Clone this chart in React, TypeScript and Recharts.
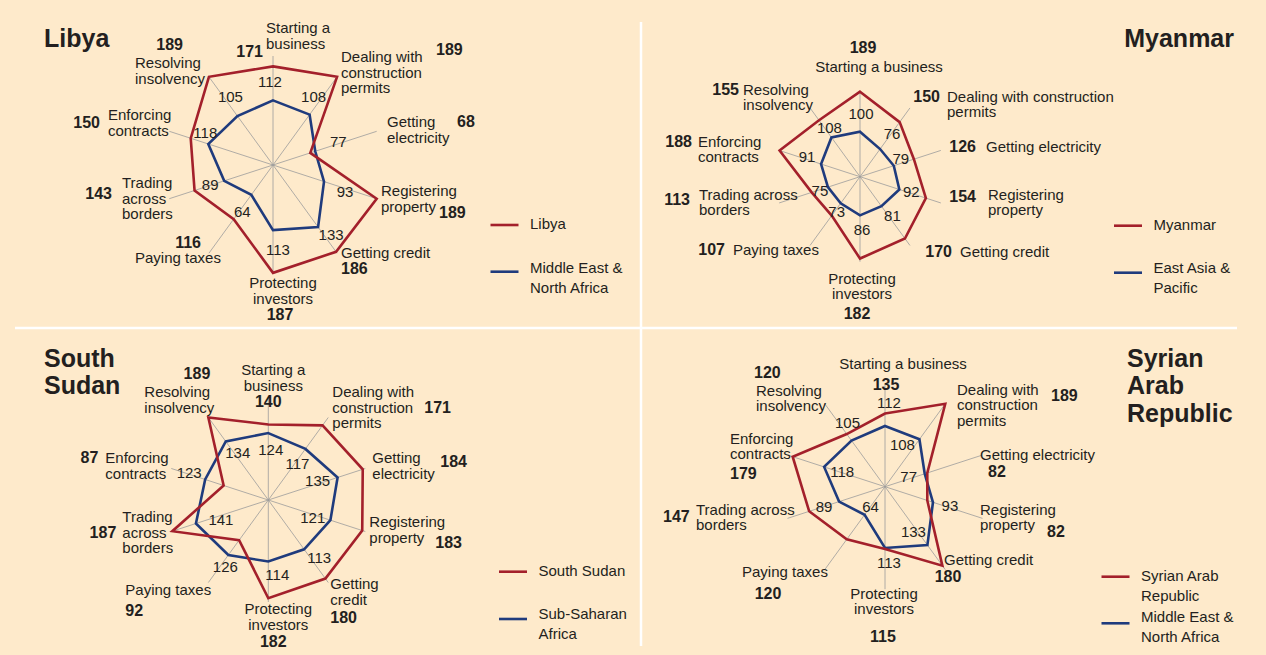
import React from 'react';
import { RadarChart, Radar, PolarGrid, PolarAngleAxis, PolarRadiusAxis } from 'recharts';

// ---------- data ----------
const CATEGORIES = [
  'Starting a business',
  'Dealing with construction permits',
  'Getting electricity',
  'Registering property',
  'Getting credit',
  'Protecting investors',
  'Paying taxes',
  'Trading across borders',
  'Enforcing contracts',
  'Resolving insolvency',
];

const LIBYA = [171, 189, 68, 189, 186, 187, 116, 143, 150, 189];
const MENA = [112, 108, 77, 93, 133, 113, 64, 89, 118, 105];
const MYANMAR = [189, 150, 126, 154, 170, 182, 107, 113, 188, 155];
const EAST_ASIA = [100, 76, 79, 92, 81, 86, 73, 75, 91, 108];
const SOUTH_SUDAN = [140, 171, 184, 183, 180, 182, 92, 187, 87, 189];
const SUB_SAHARAN = [124, 117, 135, 121, 113, 114, 126, 141, 123, 134];
const SYRIA = [135, 189, 82, 82, 180, 115, 120, 147, 179, 120];
const MAX_RANK = 189;

const LINES_LIBYA = [
  ['Starting a', 'business'], ['Dealing with', 'construction', 'permits'], ['Getting', 'electricity'],
  ['Registering', 'property'], ['Getting credit'], ['Protecting', 'investors'], ['Paying taxes'],
  ['Trading', 'across', 'borders'], ['Enforcing', 'contracts'], ['Resolving', 'insolvency'],
];
const LINES_MYANMAR = [
  ['Starting a business'], ['Dealing with construction', 'permits'], ['Getting electricity'],
  ['Registering', 'property'], ['Getting credit'], ['Protecting', 'investors'], ['Paying taxes'],
  ['Trading across', 'borders'], ['Enforcing', 'contracts'], ['Resolving', 'insolvency'],
];
const LINES_SSUDAN = [
  ['Starting a', 'business'], ['Dealing with', 'construction', 'permits'], ['Getting', 'electricity'],
  ['Registering', 'property'], ['Getting', 'credit'], ['Protecting', 'investors'], ['Paying taxes'],
  ['Trading', 'across', 'borders'], ['Enforcing', 'contracts'], ['Resolving', 'insolvency'],
];
const LINES_SYRIA = [
  ['Starting a business'], ['Dealing with', 'construction', 'permits'], ['Getting electricity'],
  ['Registering', 'property'], ['Getting credit'], ['Protecting', 'investors'], ['Paying taxes'],
  ['Trading across', 'borders'], ['Enforcing', 'contracts'], ['Resolving', 'insolvency'],
];

const TITLES = {
  libya: ['Libya'],
  myanmar: ['Myanmar'],
  ssudan: ['South', 'Sudan'],
  syria: ['Syrian', 'Arab', 'Republic'],
};
const LEGEND_LIBYA = [['Libya'], ['Middle East &', 'North Africa']];
const LEGEND_MYANMAR = [['Myanmar'], ['East Asia &', 'Pacific']];
const LEGEND_SSUDAN = [['South Sudan'], ['Sub-Saharan', 'Africa']];
const LEGEND_SYRIA = [['Syrian Arab', 'Republic'], ['Middle East &', 'North Africa']];

// ---------- style ----------
const FONT = "'Liberation Sans', Arial, sans-serif";
const TEXT = '#231F20';
const RED = '#A3202B';
const BLUE = '#1F3B7D';
const GRID = '#9C9C9C';
const BG = '#FEEACB';

type Anchor = 'start' | 'middle' | 'end';
type Pos = [number, number, Anchor];

interface PanelCfg {
  left: number; top: number; width: number; height: number;
  cx: number; cy: number; R: number;
  country: number[]; region: number[];
  lines: string[][];
  labelPos: Pos[]; numPos: Pos[]; bluePos: [number, number][];
}

const PANELS: PanelCfg[] = [
  {
    left: 0, top: 0, width: 633, height: 327, cx: 273, cy: 165, R: 109,
    country: LIBYA, region: MENA, lines: LINES_LIBYA,
    labelPos: [[-7, -132, 'start'], [68, -103, 'start'], [114, -38, 'start'], [108, 31, 'start'], [68, 93, 'start'],
      [10, 123, 'middle'], [-138, 98, 'start'], [-151, 23, 'start'], [-165, -45, 'start'], [-138, -97, 'start']],
    numPos: [[-10, -108, 'end'], [163, -110, 'start'], [184, -38, 'start'], [166, 53, 'start'], [68, 109, 'start'],
      [7, 155, 'middle'], [-72, 83, 'end'], [-161, 34, 'end'], [-173, -37, 'end'], [-90, -115, 'end']],
    bluePos: [[-3, -13], [4, -13], [23, -4], [21, 15], [13, 13], [5, 25], [-9, 22], [-14, 9], [-3, -6], [-7, -14]],
  },
  {
    left: 633, top: 0, width: 633, height: 327, cx: 227, cy: 176.7, R: 85,
    country: MYANMAR, region: EAST_ASIA, lines: LINES_MYANMAR,
    labelPos: [[19, -105, 'middle'], [87, -75, 'start'], [126, -25, 'start'], [128, 23, 'start'], [100, 80, 'start'],
      [2, 107, 'middle'], [-127, 78, 'start'], [-161, 23, 'start'], [-162, -30, 'start'], [-117, -82, 'start']],
    numPos: [[3, -124, 'middle'], [80, -75, 'end'], [116, -25, 'end'], [116, 25, 'end'], [92, 80, 'end'],
      [-3, 142, 'middle'], [-135, 78, 'end'], [-170, 28, 'end'], [-168, -30, 'end'], [-121, -82, 'end']],
    bluePos: [[1, -13], [12, -10], [7, -2], [12, 8], [11, 15], [2, 20], [-4, 14], [-8, 9], [-14, -2], [-2, -4]],
  },
  {
    left: 0, top: 328, width: 633, height: 327, cx: 268.3, cy: 172, R: 102,
    country: SOUTH_SUDAN, region: SUB_SAHARAN, lines: LINES_SSUDAN,
    labelPos: [[5, -125, 'middle'], [64, -103, 'start'], [104, -37, 'start'], [101, 27, 'start'], [62, 89, 'start'],
      [10, 114, 'middle'], [-143, 95, 'start'], [-146, 22, 'start'], [-163, -37, 'start'], [-124, -103, 'start']],
    numPos: [[0, -93, 'middle'], [156, -87, 'start'], [172, -33, 'start'], [167, 48, 'start'], [62, 123, 'start'],
      [5, 147, 'middle'], [-143, 116, 'start'], [-152, 38, 'end'], [-170, -37, 'end'], [-58, -121, 'end']],
    bluePos: [[2.5, 22], [-8, 20], [-20, 8.5], [-17.6, 2.5], [15, 14], [9, 18.5], [-3, 16.7], [25, 1.5], [-16, -1], [12, 17]],
  },
  {
    left: 633, top: 328, width: 633, height: 327, cx: 252, cy: 158.7, R: 102.5,
    country: SYRIA, region: MENA, lines: LINES_SYRIA,
    labelPos: [[18, -118, 'middle'], [72, -92, 'start'], [95, -27, 'start'], [95, 28, 'start'], [59, 78, 'start'],
      [-1, 112, 'middle'], [-143, 90, 'start'], [-189, 28, 'start'], [-155, -43, 'start'], [-129, -91, 'start']],
    numPos: [[1, -97, 'middle'], [166, -86, 'start'], [103, -10, 'start'], [162, 50, 'start'], [63, 95, 'middle'],
      [-2, 155, 'middle'], [-117, 112, 'middle'], [-222, 35, 'start'], [-155, -8, 'start'], [-131, -109, 'start']],
    bluePos: [[4, -18], [-17, 11], [-16, 8], [17, 9], [-14, -8], [4, 20], [6, -3], [-15, 10], [18, 10], [-4, -13]],
  },
];

const LINE_H = 15.5;

function Panel({ cfg }: { cfg: PanelCfg }) {
  const data = CATEGORIES.map((c, i) => ({ cat: c, country: cfg.country[i], region: cfg.region[i] }));

  const renderTick = (props: any) => {
    const value = props?.payload?.value;
    const i = CATEGORIES.indexOf(value);
    if (i < 0) return <g />;
    const [lx, ly, la] = cfg.labelPos[i];
    const [nx, ny, na] = cfg.numPos[i];
    const x = cfg.cx + lx;
    return (
      <g>
        <text x={x} y={cfg.cy + ly} textAnchor={la} fontFamily={FONT} fontSize={15} fill={TEXT}>
          {cfg.lines[i].map((t, k) => (
            <tspan key={k} x={x} dy={k === 0 ? 0 : LINE_H}>{t}</tspan>
          ))}
        </text>
        <text x={cfg.cx + nx} y={cfg.cy + ny} textAnchor={na} fontFamily={FONT} fontSize={16}
          fontWeight="bold" fill={TEXT}>{cfg.country[i]}</text>
      </g>
    );
  };

  const renderValue = (p: any) => {
    const i = p.index;
    const [dx, dy] = cfg.bluePos[i];
    return (
      <text key={`v${i}`} x={p.cx + dx} y={p.cy + dy} textAnchor="middle" fontFamily={FONT}
        fontSize={15} fill={TEXT}>{cfg.region[i]}</text>
    );
  };

  return (
    <div style={{ position: 'absolute', left: cfg.left, top: cfg.top }}>
      <RadarChart width={cfg.width} height={cfg.height} data={data} cx={cfg.cx} cy={cfg.cy}
        outerRadius={cfg.R} innerRadius={0} margin={{ top: 0, right: 0, bottom: 0, left: 0 }}>
        <PolarGrid gridType="polygon" polarRadius={[0]} stroke={GRID} strokeWidth={0.8} />
        <PolarAngleAxis dataKey="cat" tick={renderTick} tickLine={false} axisLine={false} />
        <PolarRadiusAxis type="number" domain={[0, MAX_RANK]} tick={false} axisLine={false} />
        <Radar dataKey="region" stroke={BLUE} strokeWidth={2.6} fill="none" fillOpacity={0}
          dot={false} isAnimationActive={false} />
        <Radar dataKey="country" stroke={RED} strokeWidth={2.6} fill="none" fillOpacity={0}
          dot={false} isAnimationActive={false} />
        <Radar dataKey="region" stroke="none" fill="none" fillOpacity={0}
          dot={renderValue} isAnimationActive={false} />
      </RadarChart>
    </div>
  );
}

function Legend2({ x, y, labels }: { x: number; y: number[]; labels: string[][] }) {
  // x: line start; y: [redLineY, redTextBase, blueLineY, blueTextBase]
  const colors = [RED, BLUE];
  return (
    <g>
      {labels.map((lab, s) => (
        <g key={s}>
          <line x1={x} x2={x + 28} y1={y[s * 2]} y2={y[s * 2]} stroke={colors[s]} strokeWidth={2.6} />
          <text x={x + 39.5} y={y[s * 2 + 1]} fontFamily={FONT} fontSize={15} fill={TEXT}>
            {lab.map((t, k) => (
              <tspan key={k} x={x + 39.5} dy={k === 0 ? 0 : 20}>{t}</tspan>
            ))}
          </text>
        </g>
      ))}
    </g>
  );
}

function Title({ x, y, lines, anchor }: { x: number; y: number; lines: string[]; anchor: Anchor }) {
  return (
    <text x={x} y={y} textAnchor={anchor} fontFamily={FONT} fontSize={25} fontWeight="bold" fill={TEXT}>
      {lines.map((t, k) => (
        <tspan key={k} x={x} dy={k === 0 ? 0 : 27.5}>{t}</tspan>
      ))}
    </text>
  );
}

export default function App() {
  return (
    <div style={{ position: 'relative', width: 1266, height: 655, background: BG, overflow: 'hidden' }}>
      <style>{`body{margin:0;}`}</style>
      <svg width={1266} height={655} style={{ position: 'absolute', left: 0, top: 0 }}>
        <line x1={15} x2={1237} y1={328} y2={328} stroke="#FFFFFF" strokeWidth={2.5} />
        <line x1={641} x2={641} y1={22} y2={646} stroke="#FFFFFF" strokeWidth={2.5} />
        <Title x={44} y={46.5} lines={TITLES.libya} anchor="start" />
        <Title x={1234} y={46.5} lines={TITLES.myanmar} anchor="end" />
        <Title x={44} y={366.5} lines={TITLES.ssudan} anchor="start" />
        <Title x={1127} y={366.5} lines={TITLES.syria} anchor="start" />
        <Legend2 x={490.5} y={[225, 229.3, 271.7, 273.3]} labels={LEGEND_LIBYA} />
        <Legend2 x={1114} y={[225.7, 230, 272.7, 273.3]} labels={LEGEND_MYANMAR} />
        <Legend2 x={499} y={[571.7, 576, 619, 619.3]} labels={LEGEND_SSUDAN} />
        <Legend2 x={1101.5} y={[576.7, 580.7, 623.3, 621.7]} labels={LEGEND_SYRIA} />
      </svg>
      {PANELS.map((p, i) => (
        <Panel key={i} cfg={p} />
      ))}
    </div>
  );
}
